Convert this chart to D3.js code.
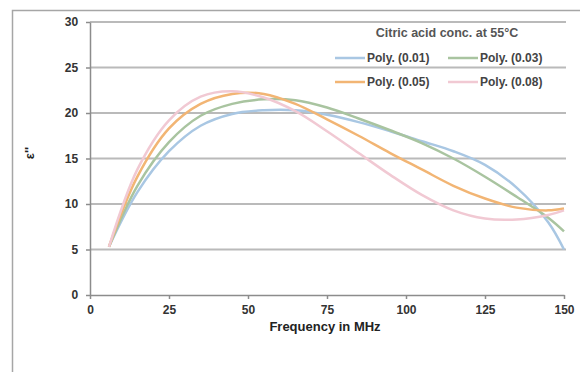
<!DOCTYPE html>
<html>
<head>
<meta charset="utf-8">
<script src="https://cdn.jsdelivr.net/npm/d3@7"></script>
<style>
  body { margin: 0; background: #fff; }
  svg { font-family: "Liberation Sans", Arial, sans-serif; }
</style>
</head>
<body>
<svg id="chart" width="580" height="372"></svg>
<script>
// frequency points (MHz)
const freq = [6, 15, 25, 35, 45, 55, 65, 75, 85, 95, 105, 115, 125, 135, 145, 150];

// epsilon'' values
const conc001 = [5.3, 11.3, 15.8, 18.6, 19.9, 20.3, 20.3, 19.8, 19.0, 18.0, 16.9, 15.8, 14.3, 11.8, 8.0, 5.0];
const conc003 = [5.3, 12.0, 16.8, 19.7, 21.0, 21.5, 21.4, 20.6, 19.4, 18.1, 16.7, 15.0, 13.0, 10.8, 8.5, 7.0];
const conc005 = [5.3, 13.0, 18.3, 21.0, 22.1, 22.1, 21.0, 19.3, 17.5, 15.6, 13.8, 12.0, 10.6, 9.6, 9.3, 9.5];
const conc008 = [5.3, 13.8, 19.2, 21.8, 22.4, 21.7, 20.2, 18.0, 15.6, 13.2, 11.0, 9.3, 8.4, 8.3, 8.8, 9.3];

const seriesNames = ["Poly. (0.01)", "Poly. (0.03)", "Poly. (0.05)", "Poly. (0.08)"];
const seriesColors = ["#a9c7e3", "#a9c4a0", "#f2b574", "#f1c9d3"];
const xTicks = [0, 25, 50, 75, 100, 125, 150];
const yTicks = [0, 5, 10, 15, 20, 25, 30];

const svg = d3.select("#chart");

// outer chart border (only left/top show in frame)
svg.append("rect")
    .attr("x", 12.5).attr("y", 10.5)
    .attr("width", 600).attr("height", 400)
    .attr("fill", "none")
    .attr("stroke", "#a6a6a6")
    .attr("stroke-width", 1.5);

const x = d3.scaleLinear().domain([0, 150]).range([90, 564]);
const y = d3.scaleLinear().domain([0, 30]).range([295, 22]);

// gridlines
svg.append("g")
    .selectAll("line")
    .data(yTicks.filter(d => d > 0))
    .join("line")
    .attr("x1", x(0)).attr("x2", x(150) + 2)
    .attr("y1", d => y(d)).attr("y2", d => y(d))
    .attr("stroke", "#bababa")
    .attr("stroke-width", 2);

// axes
const xAxis = svg.append("g")
    .attr("transform", `translate(0, ${y(0)})`)
    .call(d3.axisBottom(x).tickValues(xTicks).tickSize(4).tickSizeOuter(0));
const yAxis = svg.append("g")
    .attr("transform", `translate(${x(0)}, 0)`)
    .call(d3.axisLeft(y).tickValues(yTicks).tickSize(4).tickSizeOuter(0));

[xAxis, yAxis].forEach(function (a) {
    a.selectAll("path, line").attr("stroke", "#8c8c8c").attr("stroke-width", 1.5);
    a.selectAll("text")
        .attr("fill", "#333")
        .style("font-size", "12px")
        .style("font-weight", "bold");
});
xAxis.selectAll("text").attr("dy", "1.0em");
yAxis.selectAll("text").attr("dx", "-0.4em");

// axis titles
svg.append("text")
    .attr("x", 325).attr("y", 331)
    .attr("text-anchor", "middle")
    .attr("fill", "#222")
    .style("font-size", "13px")
    .style("font-weight", "bold")
    .text("Frequency in MHz");

svg.append("text")
    .attr("transform", "translate(34, 153) rotate(-90)")
    .attr("text-anchor", "middle")
    .attr("fill", "#222")
    .style("font-size", "13px")
    .style("font-weight", "bold")
    .text("ε''");

// lines
const allSeries = [conc001, conc003, conc005, conc008];
const line = d3.line()
    .x((d, i) => x(freq[i]))
    .y(d => y(d))
    .curve(d3.curveCatmullRom.alpha(0.5));

allSeries.forEach(function (vals, k) {
    svg.append("path")
        .datum(vals)
        .attr("fill", "none")
        .attr("stroke", seriesColors[k])
        .attr("stroke-width", 2.5)
        .attr("d", line);
});

// legend
svg.append("text")
    .attr("x", 447).attr("y", 37)
    .attr("text-anchor", "middle")
    .attr("fill", "#555")
    .style("font-size", "12.5px")
    .style("font-weight", "bold")
    .text("Citric acid conc. at 55°C");

const legendPos = [[335, 58], [448, 58], [335, 82], [448, 82]];
seriesNames.forEach(function (name, k) {
    const p = legendPos[k];
    svg.append("line")
        .attr("x1", p[0]).attr("x2", p[0] + 30)
        .attr("y1", p[1]).attr("y2", p[1])
        .attr("stroke", seriesColors[k])
        .attr("stroke-width", 2.5);
    svg.append("text")
        .attr("x", p[0] + 32).attr("y", p[1] + 4)
        .attr("fill", "#444")
        .style("font-size", "12px")
        .style("font-weight", "bold")
        .text(name);
});
</script>
</body>
</html>
